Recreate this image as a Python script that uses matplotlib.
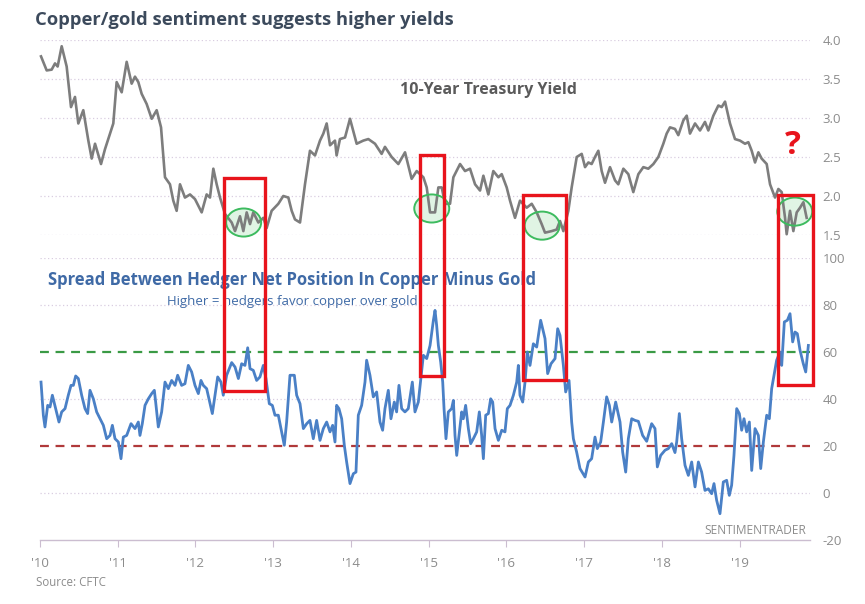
import matplotlib
matplotlib.use("Agg")
import matplotlib.pyplot as plt
import matplotlib.transforms as mtransforms
from matplotlib.patches import Rectangle, Ellipse

plt.rcParams['font.family'] = ['Open Sans', 'DejaVu Sans']

# ---------------- data ----------------
yield_dates = [2010.013, 2010.086, 2010.150, 2010.193, 2010.227, 2010.279, 2010.343, 2010.399, 2010.450, 2010.493,
               2010.557, 2010.622, 2010.665, 2010.708, 2010.785, 2010.836, 2010.900, 2010.943, 2010.986, 2011.051,
               2011.115, 2011.179, 2011.222, 2011.265, 2011.308, 2011.372, 2011.437, 2011.501, 2011.557, 2011.608,
               2011.672, 2011.715, 2011.758, 2011.801, 2011.865, 2011.930, 2011.994, 2012.080, 2012.144, 2012.187,
               2012.230, 2012.273, 2012.316, 2012.380, 2012.466, 2012.509, 2012.573, 2012.616, 2012.659, 2012.702,
               2012.744, 2012.809, 2012.873, 2012.916, 2012.980, 2013.066, 2013.130, 2013.195, 2013.238, 2013.280,
               2013.345, 2013.409, 2013.473, 2013.538, 2013.602, 2013.645, 2013.688, 2013.731, 2013.795, 2013.816,
               2013.859, 2013.924, 2013.988, 2014.074, 2014.159, 2014.224, 2014.310, 2014.395, 2014.438, 2014.524,
               2014.610, 2014.696, 2014.781, 2014.846, 2014.889, 2014.932, 2014.975, 2015.018, 2015.082, 2015.125,
               2015.168, 2015.211, 2015.275, 2015.318, 2015.404, 2015.468, 2015.532, 2015.597, 2015.661, 2015.704,
               2015.768, 2015.832, 2015.897, 2015.940, 2016.004, 2016.047, 2016.111, 2016.175, 2016.261, 2016.326,
               2016.390, 2016.454, 2016.497, 2016.583, 2016.647, 2016.690, 2016.733, 2016.797, 2016.840, 2016.905,
               2016.969, 2017.012, 2017.055, 2017.097, 2017.140, 2017.183, 2017.226, 2017.269, 2017.333, 2017.398,
               2017.440, 2017.505, 2017.569, 2017.633, 2017.698, 2017.762, 2017.826, 2017.891, 2017.955, 2018.019,
               2018.062, 2018.105, 2018.169, 2018.212, 2018.277, 2018.320, 2018.362, 2018.427, 2018.491, 2018.555,
               2018.598, 2018.663, 2018.727, 2018.770, 2018.813, 2018.877, 2018.941, 2019.006, 2019.070, 2019.113,
               2019.156, 2019.199, 2019.242, 2019.284, 2019.349, 2019.392, 2019.456, 2019.499, 2019.542, 2019.585,
               2019.606, 2019.649, 2019.692, 2019.735, 2019.778, 2019.821, 2019.863]
yield_values = [3.79, 3.61, 3.62, 3.70, 3.66, 3.92, 3.66, 3.14, 3.27, 2.93,
                3.10, 2.71, 2.48, 2.67, 2.41, 2.60, 2.80, 2.93, 3.46, 3.33,
                3.72, 3.44, 3.53, 3.46, 3.31, 3.18, 2.99, 3.10, 2.88, 2.24,
                2.15, 1.94, 1.81, 2.15, 1.98, 2.02, 1.96, 1.79, 2.02, 1.98,
                2.35, 2.15, 1.98, 1.77, 1.66, 1.55, 1.74, 1.55, 1.79, 1.64,
                1.79, 1.66, 1.72, 1.59, 1.81, 1.90, 2.00, 1.98, 1.81, 1.70,
                1.66, 2.15, 2.58, 2.52, 2.71, 2.80, 2.93, 2.65, 2.71, 2.52,
                2.73, 2.75, 2.99, 2.67, 2.71, 2.73, 2.67, 2.54, 2.63, 2.50,
                2.41, 2.56, 2.22, 2.32, 2.28, 2.24, 2.11, 1.79, 1.79, 2.11,
                2.11, 1.90, 1.90, 2.24, 2.41, 2.32, 2.35, 2.15, 2.07, 2.26,
                2.02, 2.32, 2.24, 2.28, 2.11, 1.94, 1.72, 1.94, 1.85, 1.90,
                1.79, 1.64, 1.53, 1.55, 1.57, 1.68, 1.55, 1.81, 2.11, 2.50,
                2.54, 2.37, 2.43, 2.41, 2.50, 2.58, 2.32, 2.17, 2.37, 2.20,
                2.15, 2.35, 2.28, 2.05, 2.28, 2.37, 2.35, 2.41, 2.50, 2.67,
                2.80, 2.88, 2.86, 2.78, 2.97, 3.03, 2.80, 2.93, 2.84, 2.95,
                2.84, 3.03, 3.16, 3.14, 3.21, 2.93, 2.73, 2.71, 2.67, 2.69,
                2.58, 2.43, 2.56, 2.48, 2.41, 2.15, 1.98, 2.09, 2.05, 1.72,
                1.51, 1.81, 1.55, 1.79, 1.85, 1.92, 1.72]

spread_dates = [2010.013, 2010.043, 2010.064, 2010.099, 2010.129, 2010.159, 2010.202, 2010.244, 2010.279, 2010.322,
                2010.364, 2010.399, 2010.429, 2010.459, 2010.493, 2010.536, 2010.579, 2010.613, 2010.643, 2010.686,
                2010.729, 2010.772, 2010.815, 2010.858, 2010.901, 2010.931, 2010.965, 2011.008, 2011.042, 2011.072,
                2011.115, 2011.171, 2011.222, 2011.265, 2011.286, 2011.316, 2011.351, 2011.394, 2011.437, 2011.471,
                2011.488, 2011.522, 2011.565, 2011.608, 2011.651, 2011.694, 2011.737, 2011.771, 2011.822, 2011.865,
                2011.908, 2011.951, 2011.994, 2012.037, 2012.071, 2012.101, 2012.144, 2012.178, 2012.217, 2012.251,
                2012.286, 2012.328, 2012.358, 2012.401, 2012.466, 2012.509, 2012.552, 2012.594, 2012.637, 2012.672,
                2012.702, 2012.744, 2012.787, 2012.830, 2012.873, 2012.907, 2012.950, 2012.989, 2013.023, 2013.066,
                2013.100, 2013.143, 2013.173, 2013.216, 2013.272, 2013.302, 2013.345, 2013.388, 2013.431, 2013.473,
                2013.516, 2013.559, 2013.602, 2013.645, 2013.688, 2013.731, 2013.765, 2013.795, 2013.816, 2013.846,
                2013.881, 2013.915, 2013.945, 2013.988, 2014.031, 2014.065, 2014.095, 2014.138, 2014.181, 2014.202,
                2014.245, 2014.288, 2014.331, 2014.374, 2014.408, 2014.438, 2014.481, 2014.515, 2014.558, 2014.588,
                2014.618, 2014.653, 2014.695, 2014.738, 2014.790, 2014.824, 2014.867, 2014.932, 2014.975, 2015.018,
                2015.061, 2015.082, 2015.103, 2015.125, 2015.155, 2015.181, 2015.198, 2015.223, 2015.253, 2015.296,
                2015.318, 2015.339, 2015.361, 2015.395, 2015.425, 2015.446, 2015.476, 2015.511, 2015.541, 2015.575,
                2015.618, 2015.652, 2015.682, 2015.704, 2015.734, 2015.768, 2015.798, 2015.824, 2015.854, 2015.897,
                2015.940, 2015.982, 2016.012, 2016.047, 2016.090, 2016.133, 2016.154, 2016.175, 2016.210, 2016.240,
                2016.270, 2016.304, 2016.347, 2016.390, 2016.441, 2016.497, 2016.531, 2016.574, 2016.626, 2016.660,
                2016.690, 2016.733, 2016.763, 2016.806, 2016.840, 2016.862, 2016.904, 2016.947, 2017.012, 2017.055,
                2017.097, 2017.140, 2017.170, 2017.213, 2017.248, 2017.290, 2017.325, 2017.355, 2017.406, 2017.462,
                2017.496, 2017.535, 2017.569, 2017.612, 2017.655, 2017.698, 2017.753, 2017.805, 2017.869, 2017.912,
                2017.942, 2017.985, 2018.041, 2018.084, 2018.127, 2018.169, 2018.191, 2018.225, 2018.255, 2018.298,
                2018.341, 2018.384, 2018.427, 2018.470, 2018.512, 2018.555, 2018.598, 2018.641, 2018.671, 2018.705,
                2018.748, 2018.791, 2018.834, 2018.868, 2018.898, 2018.928, 2018.963, 2018.997, 2019.027, 2019.057,
                2019.091, 2019.126, 2019.156, 2019.199, 2019.242, 2019.272, 2019.306, 2019.349, 2019.383, 2019.413,
                2019.443, 2019.477, 2019.520, 2019.542, 2019.576, 2019.615, 2019.649, 2019.683, 2019.713, 2019.743,
                2019.778, 2019.820, 2019.851, 2019.885]
spread_values = [47.2, 33.1, 28.1, 37.3, 36.6, 41.6, 35.9, 30.2, 34.5, 35.9,
                 41.6, 45.8, 45.8, 49.8, 48.7, 41.6, 35.9, 33.8, 43.7, 40.1,
                 34.5, 31.6, 28.8, 23.1, 24.5, 28.8, 23.1, 21.7, 14.6, 23.8,
                 24.5, 29.5, 27.4, 30.2, 24.5, 29.5, 37.3, 40.1, 42.3, 43.7,
                 38.7, 28.1, 34.5, 47.2, 44.4, 47.9, 45.8, 50.1, 45.8, 46.5,
                 54.3, 51.5, 45.8, 42.3, 47.9, 45.8, 44.4, 39.4, 33.8, 41.6,
                 49.4, 47.2, 41.6, 50.1, 55.5, 53.6, 48.7, 55.0, 54.3, 61.8,
                 52.9, 52.2, 47.9, 49.4, 54.3, 48.7, 38.0, 37.3, 33.1, 33.1,
                 27.4, 20.3, 30.2, 50.1, 50.1, 41.6, 38.0, 27.4, 29.5, 30.9,
                 23.1, 30.9, 22.4, 27.4, 30.2, 26.0, 28.8, 21.7, 37.3, 35.9,
                 31.6, 20.3, 13.2, 4.0, 8.2, 8.9, 33.1, 37.3, 47.2, 56.5,
                 50.1, 40.9, 43.0, 30.2, 26.7, 35.9, 43.7, 31.6, 38.7, 34.5,
                 45.8, 35.9, 34.5, 35.9, 47.2, 34.5, 38.7, 58.6, 57.2, 62.8,
                 73.5, 77.7, 71.3, 62.8, 55.7, 47.2, 35.9, 23.1, 34.5, 35.9,
                 39.4, 24.5, 16.0, 26.0, 34.5, 31.6, 37.3, 27.4, 21.0, 23.1,
                 26.0, 34.5, 24.5, 14.6, 33.1, 33.8, 40.1, 38.7, 27.4, 22.4,
                 26.7, 26.0, 35.9, 37.3, 41.6, 47.2, 54.3, 41.6, 38.7, 47.2,
                 60.0, 54.3, 63.5, 62.1, 73.5, 65.7, 50.8, 55.0, 57.2, 69.9,
                 67.1, 54.3, 43.0, 47.9, 30.2, 23.1, 17.4, 10.4, 6.8, 13.2,
                 14.6, 23.8, 18.9, 21.7, 30.2, 40.9, 37.3, 30.2, 38.7, 30.2,
                 17.4, 8.9, 23.1, 31.6, 30.9, 30.5, 24.5, 22.0, 29.5, 27.4,
                 11.1, 16.0, 18.2, 18.9, 21.0, 17.2, 21.7, 33.8, 23.1, 11.8,
                 7.5, 13.2, 2.6, 13.2, 8.9, 1.1, 1.8, -0.3, 4.0, -3.1,
                 -8.8, 4.7, 5.4, -1.0, 3.3, 16.0, 35.9, 33.8, 26.7, 31.6,
                 26.0, 30.2, 9.6, 27.4, 24.5, 10.4, 21.7, 33.1, 31.6, 44.4,
                 50.1, 56.5, 60.0, 54.3, 72.8, 73.5, 76.3, 64.3, 68.5, 67.8,
                 60.7, 55.0, 51.5, 62.8]

year_ticks = [2010, 2011, 2012, 2013, 2014, 2015, 2016, 2017, 2018, 2019]
year_labels = ["'10", "'11", "'12", "'13", "'14", "'15", "'16", "'17", "'18", "'19"]
yield_ticks = [1.5, 2.0, 2.5, 3.0, 3.5, 4.0]
spread_ticks = [-20, 0, 20, 40, 60, 80, 100]
upper_threshold = 60
lower_threshold = 20

# highlight boxes (start/end year) and circles (center year, yield)
box_start = [2012.37, 2014.89, 2016.21, 2019.49]
box_end = [2012.90, 2015.20, 2016.77, 2019.95]
circle_x = [2012.62, 2015.04, 2016.46, 2019.71]
circle_y = [1.66, 1.84, 1.62, 1.80]

# ---------------- figure ----------------
W, H = 865, 604
fig = plt.figure(figsize=(W / 100, H / 100), dpi=100)

def fx(px):
    return px / W

def fy(py):
    return 1 - py / H

x0, x1 = 40, 810
xmin = 2010.0
xmax = 2010.0 + (x1 - x0) / 77.73

ax_top = fig.add_axes([fx(x0), fy(235), fx(x1 - x0), (235 - 40) / H])
ax_bot = fig.add_axes([fx(x0), fy(540), fx(x1 - x0), (540 - 258) / H])

grid_color = '#d9cde0'
label_color = '#8c8c8c'

for ax in (ax_top, ax_bot):
    ax.set_xlim(xmin, xmax)
    ax.set_facecolor('none')
    for s in ax.spines.values():
        s.set_visible(False)
    ax.yaxis.tick_right()
    ax.tick_params(axis='y', length=0, pad=9, labelsize=9.5, labelcolor=label_color)

# top panel
ax_top.set_ylim(1.5, 4.0)
ax_top.set_yticks(yield_ticks)
ax_top.set_yticklabels([f"{t:.1f}" for t in yield_ticks])
ax_top.set_xticks([])
for t in yield_ticks:
    ax_top.axhline(t, color=grid_color, lw=0.9, ls=(0, (1, 2)), zorder=0)

for cx, cy in zip(circle_x, circle_y):
    e = Ellipse((cx, cy), width=0.45, height=0.36, facecolor='#d6f1dc', alpha=0.75,
                edgecolor='none', zorder=1, clip_on=False)
    ax_top.add_patch(e)
    e2 = Ellipse((cx, cy), width=0.45, height=0.36, facecolor='none',
                 edgecolor='#3dbb5f', lw=1.4, zorder=3, clip_on=False)
    ax_top.add_patch(e2)

ax_top.plot(yield_dates, yield_values, color='#7d7d7d', lw=1.9, zorder=2, clip_on=False)

# bottom panel
ax_bot.set_ylim(-20, 100)
ax_bot.set_yticks(spread_ticks)
ax_bot.set_yticklabels([str(t) for t in spread_ticks])
for t in [0, 40, 80, 100]:
    ax_bot.axhline(t, color=grid_color, lw=0.9, ls=(0, (1, 2)), zorder=0)
ax_bot.axhline(upper_threshold, color='#3a9a45', lw=1.6, ls=(0, (4, 3)), zorder=1)
ax_bot.axhline(lower_threshold, color='#b0393a', lw=1.6, ls=(0, (4, 3)), zorder=1)
ax_bot.plot(spread_dates, spread_values, color='#4a80c6', lw=2.0, zorder=2, clip_on=False)

ax_bot.spines['bottom'].set_visible(True)
ax_bot.spines['bottom'].set_color('#cbbdd0')
ax_bot.spines['bottom'].set_linewidth(1.0)
ax_bot.set_xticks(year_ticks)
ax_bot.set_xticklabels(year_labels)
ax_bot.tick_params(axis='x', length=5, color='#cbbdd0', pad=7, labelsize=9.5, labelcolor=label_color)

# red boxes spanning both panels
trans = mtransforms.blended_transform_factory(ax_bot.transData, fig.transFigure)
box_top_px = [178, 155, 195, 195]
box_bot_px = [391, 376, 380, 385]
for xs, xe, tp, bp in zip(box_start, box_end, box_top_px, box_bot_px):
    r = Rectangle((xs, fy(bp)), xe - xs, fy(tp) - fy(bp), transform=trans,
                  fill=False, edgecolor='#e8141c', lw=2.4, zorder=5, clip_on=False)
    fig.add_artist(r)

# texts
fig.text(fx(35), fy(20), "Copper/gold sentiment suggests higher yields", fontsize=13.2,
         fontweight='bold', color='#3c4a5c', ha='left', va='center')
fig.text(fx(488), fy(90), "10-Year Treasury Yield", fontsize=11.5, fontweight='bold',
         color='#5a5a5a', ha='center', va='center')
fig.text(fx(48), fy(280), "Spread Between Hedger Net Position In Copper Minus Gold", fontsize=12,
         fontweight='bold', color='#3f6aa6', ha='left', va='center')
fig.text(fx(167), fy(302), "Higher = hedgers favor copper over gold", fontsize=9.5,
         color='#3f6aa6', ha='left', va='center')
fig.text(fx(806), fy(530), "SENTIMENTRADER", fontsize=8.6, color='#8c8c8c', ha='right', va='center')
fig.text(fx(36), fy(582), "Source: CFTC", fontsize=8.3, color='#8c8c8c', ha='left', va='center')
fig.text(fx(793), fy(146), "?", fontsize=24, fontweight='bold', color='#e8141c', ha='center', va='center')

fig.savefig('out.png', dpi=100)
